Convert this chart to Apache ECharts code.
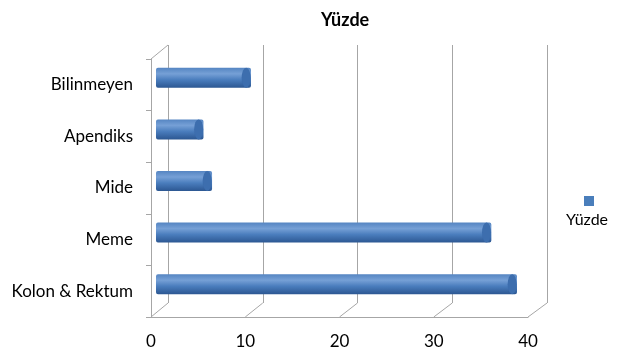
<!DOCTYPE html>
<html>
<head>
<meta charset="utf-8">
<script src="https://cdn.jsdelivr.net/npm/echarts@6/dist/echarts.min.js"></script>
<style>
  html, body { margin: 0; padding: 0; background: #fff; }
  #main { width: 617px; height: 351px; }
</style>
</head>
<body>
<div id="main"></div>
<script>
var categories = ['Kolon & Rektum', 'Meme', 'Mide', 'Apendiks', 'Bilinmeyen'];
var values = [38, 35.3, 5.9, 5, 10];
var xTicks = [0, 10, 20, 30, 40];
var seriesName = 'Yüzde';

var chartDom = document.getElementById('main');
var myChart = echarts.init(chartDom);
var option;

var font = 'Lato, "Liberation Sans", sans-serif';
var lineColor = '#a6a6a6';

// back wall, front (axes) plane, and bar plane in the middle
var back = { left: 168, right: 70, top: 45, bottom: 48 };
var front = { left: 151, right: 89, top: 59, bottom: 34 };
var mid = { left: 156, right: 81, top: 52, bottom: 41 };

var barColor = new echarts.graphic.LinearGradient(0, 0, 0, 1, [
    { offset: 0, color: '#5585c2' },
    { offset: 0.3, color: '#76a0d6' },
    { offset: 0.6, color: '#4a7dbd' },
    { offset: 1, color: '#2c5792' }
]);

option = {
    animation: false,
    title: [
        {
            text: 'Yüzde',
            left: 316,
            top: 6,
            textStyle: { fontFamily: font, fontSize: 18, fontWeight: 'bold', color: '#000' }
        },
        {
            text: 'Yüzde',
            left: 561,
            top: 207,
            textStyle: { fontFamily: font, fontSize: 16, fontWeight: 'normal', color: '#000' }
        }
    ],
    legend: {
        left: 579,
        top: 191,
        icon: 'rect',
        itemWidth: 10,
        itemHeight: 10,
        itemStyle: { color: '#4a7ebb' },
        formatter: function () { return ''; },
        data: [seriesName]
    },
    grid: [
        { left: back.left, right: back.right, top: back.top, bottom: back.bottom },
        { left: front.left, right: front.right, top: front.top, bottom: front.bottom },
        { left: mid.left, right: mid.right, top: mid.top, bottom: mid.bottom }
    ],
    xAxis: [
        {
            gridIndex: 0, type: 'value', min: 0, max: 40, interval: 10,
            axisLine: { show: false }, axisTick: { show: false }, axisLabel: { show: false },
            splitLine: { show: true, lineStyle: { color: lineColor, width: 1 } }
        },
        {
            gridIndex: 1, type: 'value', min: 0, max: 40, interval: 10,
            axisLine: { show: true, lineStyle: { color: lineColor } },
            axisTick: { show: false },
            splitLine: { show: false },
            axisLabel: { fontFamily: font, fontSize: 17, color: '#000', margin: 16 }
        },
        {
            gridIndex: 2, type: 'value', min: 0, max: 40, interval: 10, show: false,
            splitLine: { show: false }
        }
    ],
    yAxis: [
        {
            gridIndex: 0, type: 'category', data: categories, show: false
        },
        {
            gridIndex: 1, type: 'category', data: categories,
            axisLine: { show: true, lineStyle: { color: lineColor } },
            axisTick: { show: true, length: 5, lineStyle: { color: lineColor } },
            axisLabel: { fontFamily: font, fontSize: 17, color: '#000', margin: 18 }
        },
        {
            gridIndex: 2, type: 'category', data: categories, show: false
        }
    ],
    series: [
        {
            name: seriesName,
            type: 'bar',
            xAxisIndex: 2,
            yAxisIndex: 2,
            data: values,
            barWidth: 20,
            itemStyle: { color: barColor, borderRadius: [2, 2, 2, 2] },
            z: 3
        },
        {
            name: seriesName,
            type: 'pictorialBar',
            xAxisIndex: 2,
            yAxisIndex: 2,
            data: values,
            symbol: 'circle',
            symbolPosition: 'end',
            symbolSize: [9, 20],
            symbolOffset: [0, 0],
            itemStyle: { color: '#3d6eae', borderColor: '#284d84', borderWidth: 1 },
            legendHoverLink: false,
            z: 4
        }
    ]
};

option && myChart.setOption(option);

// perspective edges linking the front plane to the back wall
var lines = [];
var frontBottom = 351 - front.bottom;
var backBottom = 351 - back.bottom;
xTicks.forEach(function (v) {
    var fx = myChart.convertToPixel({ xAxisIndex: 1 }, v);
    var bx = myChart.convertToPixel({ xAxisIndex: 0 }, v);
    lines.push({
        type: 'line',
        shape: { x1: fx, y1: frontBottom, x2: bx, y2: backBottom },
        style: { stroke: lineColor, lineWidth: 1 }
    });
});
lines.push({
    type: 'line',
    shape: { x1: front.left, y1: front.top, x2: back.left, y2: back.top },
    style: { stroke: lineColor, lineWidth: 1 }
});
myChart.setOption({ graphic: lines });
</script>
</body>
</html>
